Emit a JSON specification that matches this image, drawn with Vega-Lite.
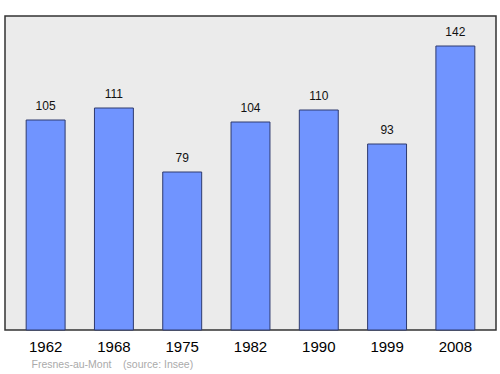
{
  "$schema": "https://vega.github.io/schema/vega-lite/v6.json",
  "width": 491,
  "height": 314,
  "autosize": {"type": "none"},
  "padding": {"left": 5, "top": 16, "right": 4, "bottom": 44},
  "background": "white",
  "config": {
    "view": {"fill": "#ebebeb", "stroke": "#333333", "strokeWidth": 1.5},
    "font": "Liberation Sans"
  },
  "data": {
    "values": [
      {"year": "1962", "pop": 105},
      {"year": "1968", "pop": 111},
      {"year": "1975", "pop": 79},
      {"year": "1982", "pop": 104},
      {"year": "1990", "pop": 110},
      {"year": "1999", "pop": 93},
      {"year": "2008", "pop": 142}
    ]
  },
  "encoding": {
    "x": {
      "field": "year",
      "type": "ordinal",
      "scale": {"paddingInner": 0.43, "paddingOuter": 0.31},
      "axis": {
        "labelAngle": 0,
        "ticks": false,
        "domain": false,
        "labelFontSize": 15,
        "labelColor": "#000000",
        "labelPadding": 9,
        "title": "Fresnes-au-Mont\u00a0\u00a0\u00a0\u00a0(source: Insee)",
        "titleFontSize": 10.5,
        "titleFontWeight": "normal",
        "titleColor": "#aaaaaa",
        "titleAnchor": "start",
        "titleAlign": "left",
        "titleBaseline": "middle",
        "titleX": 26,
        "titleY": 34
      }
    },
    "y": {
      "field": "pop",
      "type": "quantitative",
      "scale": {"domain": [0, 157], "nice": false},
      "axis": null
    }
  },
  "layer": [
    {
      "mark": {"type": "bar", "fill": "#7094ff", "stroke": "#2e3a6e", "strokeWidth": 1}
    },
    {
      "mark": {"type": "text", "baseline": "alphabetic", "dy": -10, "fontSize": 12, "color": "#111111"},
      "encoding": {"text": {"field": "pop", "type": "quantitative"}}
    }
  ]
}
